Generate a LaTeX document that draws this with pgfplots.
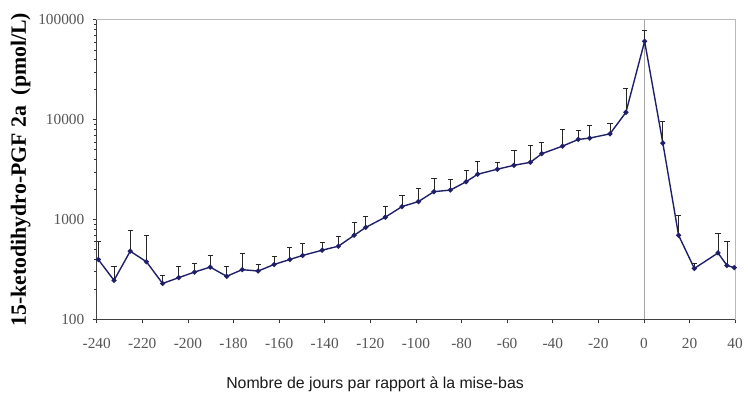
\documentclass[border=0pt]{standalone}
\usepackage{pgfplots}
\pgfplotsset{compat=1.18}
\usepackage{pgfplotstable}
\usepackage{fontspec}
\setmainfont{Liberation Serif}
\newfontfamily\sansf{Liberation Sans}
\definecolor{navy}{RGB}{30,30,105}
\definecolor{tickgray}{RGB}{85,85,85}
\pgfplotstableread{
x y ep
-239.3 398 202
-232.4 246 96
-225.3 482 298
-218.2 378 311
-211.1 229 45
-204.0 262 80
-197.1 298 65
-190.2 334 103
-183.0 270 70
-176.2 315 138
-169.2 305 50
-162.2 355 75
-155.3 398 134
-149.7 437 146
-141.1 493 100
-134.0 541 132
-127.1 695 247
-122.0 834 240
-113.4 1057 311
-106.1 1349 386
-98.9 1513 523
-92.1 1901 676
-84.9 1972 546
-78.0 2388 687
-72.9 2843 1019
-64.3 3189 587
-57.0 3493 1429
-49.8 3740 1781
-44.8 4563 1308
-35.7 5433 2467
-28.8 6336 1444
-23.8 6537 2193
-14.9 7211 2059
-7.9 11840 8660
0.3 60900 16900
8.3 5825 3815
15.2 695 404
22.1 324 36
32.5 463 258
36.4 347 258
39.6 330 0
}\datatable
\begin{document}
\begin{tikzpicture}[x=1bp,y=1bp]
\begin{axis}[
  scale only axis,
  width=645bp, height=302.7bp,
  ymode=log,
  xmin=-240, xmax=40,
  ymin=100, ymax=100000,
  xtick={-240,-220,...,40},
  ytick={100,1000,10000,100000},
  yticklabels={100,1000,10000,100000},
  minor y tick num=0,
  xtick pos=bottom, ytick pos=left,
  /pgf/number format/assume math mode=true,
  ticklabel style={font=\fontsize{15.5bp}{17bp}\selectfont, text=tickgray},
  xticklabel style={yshift=-12bp},
  yticklabel style={xshift=-5bp},
  tick align=outside,
  major tick length=4bp,
  tick style={black!80, line width=0.6bp},
  axis line style={draw=gray!55, line width=0.8bp},
  clip=false,
  xlabel={\sansf Nombre de jours par rapport à la mise-bas},
  ylabel={\bfseries 15-ketodihydro-PGF 2a\ \ (pmol/L)},
  every axis x label/.style={at={(axis description cs:0.436,-0.215)}, anchor=center, font=\fontsize{16bp}{18bp}\selectfont, text=black!90},
  every axis y label/.style={at={(axis description cs:-0.119,0.5)}, rotate=90, anchor=center, font=\fontsize{22bp}{24bp}\selectfont},
]
\addplot[gray!70, line width=0.6bp, forget plot] coordinates {(0,100) (0,100000)};
\addplot[navy, line width=1.4bp, mark=*, mark size=1.8bp, mark options={fill=navy},
  error bars/.cd, y dir=plus, y explicit,
  error bar style={black!85, line width=0.8bp},
  error mark options={rotate=90, mark size=2.6bp, black!85, line width=0.8bp}]
  table[x=x, y=y, y error plus=ep] {\datatable};
\draw[black!75, line width=0.9bp] (rel axis cs:0,1) -- (rel axis cs:0,0) -- (rel axis cs:1,0);
\coordinate (bl) at (rel axis cs:0,0);
\coordinate (tr) at (rel axis cs:1,1);
\end{axis}
\pgfresetboundingbox
\path[use as bounding box] ([shift={(-97.7bp,-80.3bp)}]bl) rectangle ([shift={(13bp,20bp)}]tr);
\end{tikzpicture}
\end{document}
